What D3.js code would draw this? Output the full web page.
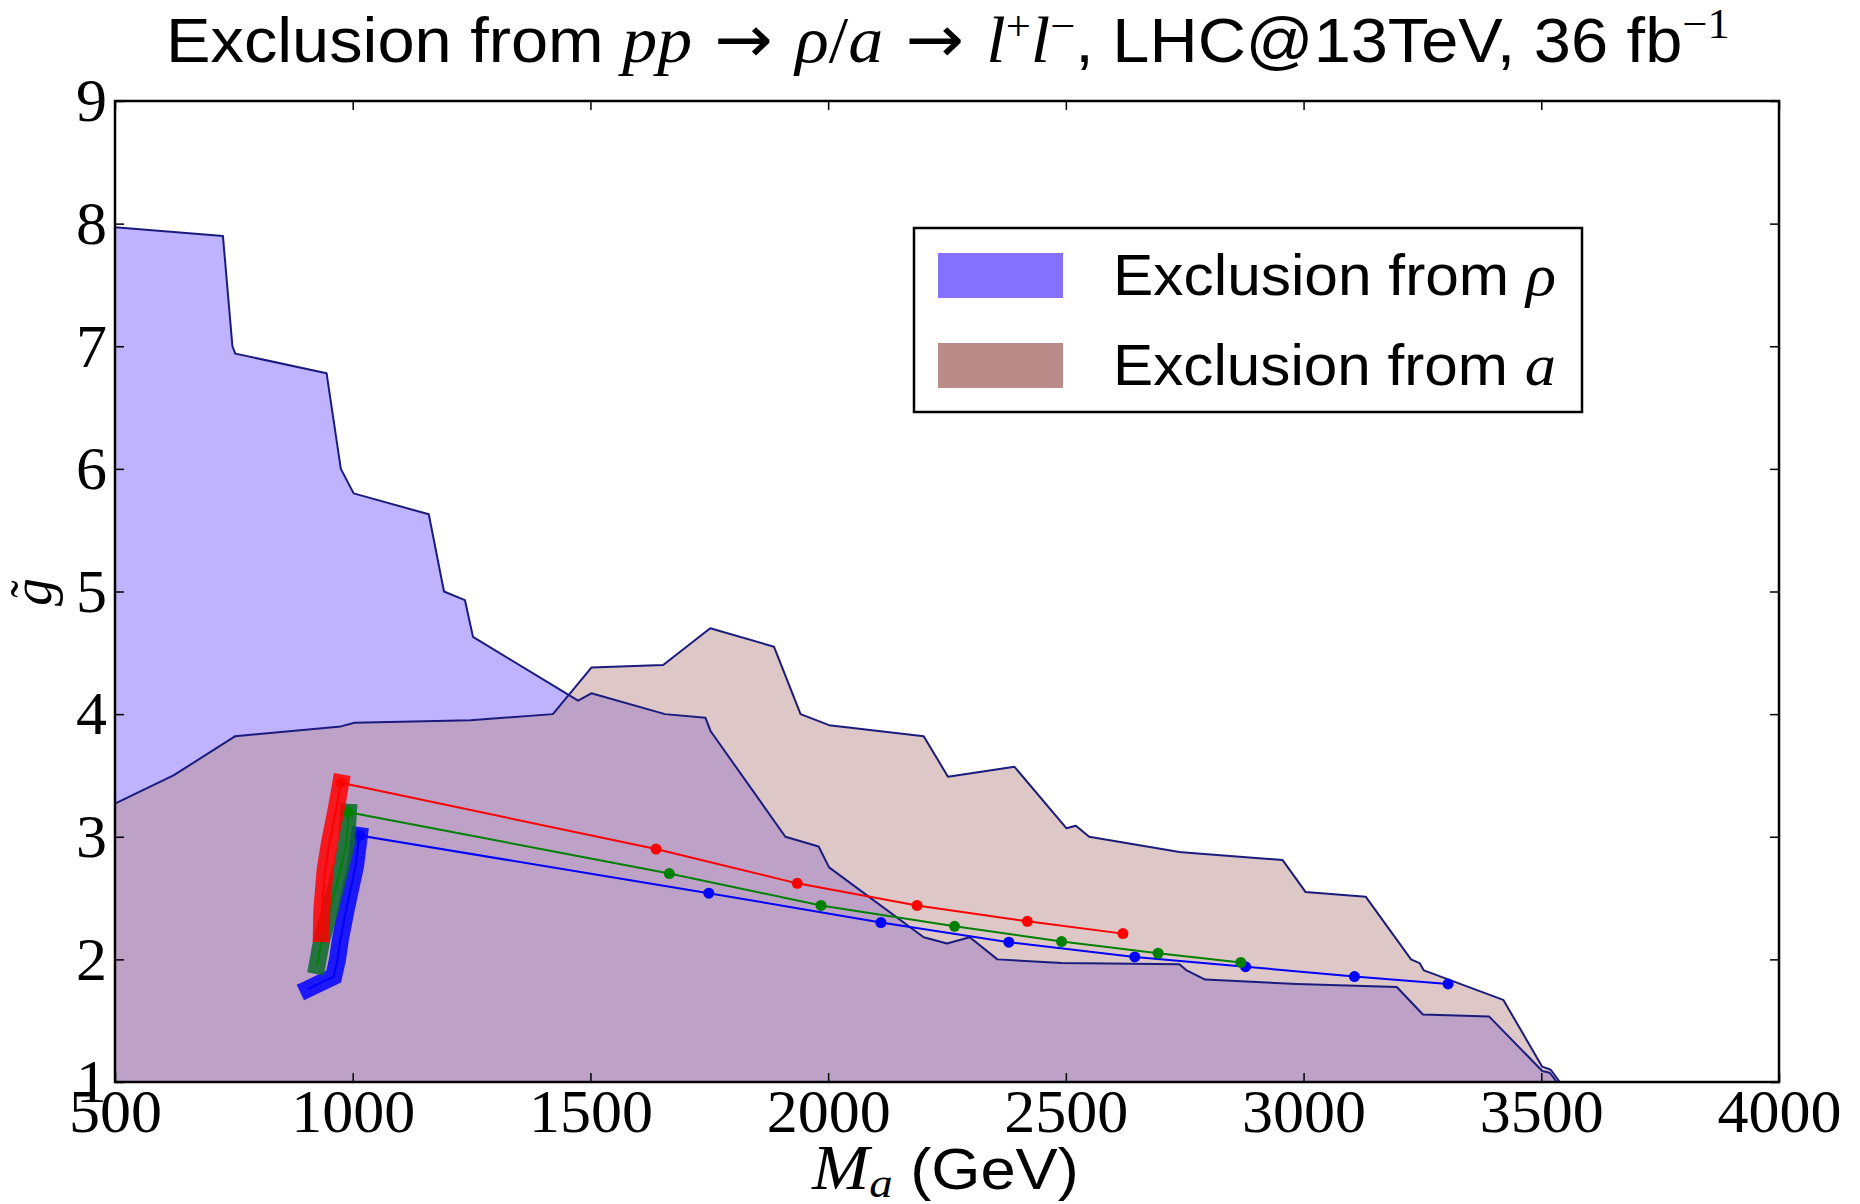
<!DOCTYPE html>
<html>
<head>
<meta charset="utf-8">
<script src="https://cdn.jsdelivr.net/npm/d3@7"></script>
<style>
  html, body { margin: 0; padding: 0; background: #fff; }
  svg { display: block; }
</style>
</head>
<body>
<svg id="chart" width="1860" height="1204"></svg>
<script>
// Upper edge of the region excluded by the rho resonance (M_a in GeV, coupling g~)
const rhoMass     = [500, 727, 747, 753, 945, 975, 1002, 1160, 1192, 1236, 1253, 1474, 1502, 1657, 1742, 1753, 1910, 1980, 2002, 2201, 2250, 2298, 2356, 2491, 2739, 2754, 2793, 2986, 3196, 3251, 3390, 3502, 3518, 3533];
const rhoCoupling = [7.97, 7.90, 7.00, 6.94, 6.78, 6.00, 5.80, 5.63, 5.00, 4.93, 4.63, 4.11, 4.17, 4.00, 3.97, 3.86, 3.00, 2.92, 2.75, 2.18, 2.13, 2.18, 2.00, 1.97, 1.96, 1.91, 1.835, 1.80, 1.775, 1.55, 1.535, 1.09, 1.075, 1.0];

// Upper edge of the region excluded by the a resonance
const aMass     = [500, 623, 753, 975, 1004, 1248, 1421, 1502, 1653, 1752, 1886, 1942, 2002, 2201, 2252, 2392, 2501, 2521, 2549, 2739, 2757, 2956, 3004, 3131, 3226, 3244, 3253, 3420, 3502, 3520, 3539];
const aCoupling = [3.27, 3.50, 3.82, 3.90, 3.93, 3.95, 4.00, 4.38, 4.40, 4.70, 4.55, 4.00, 3.91, 3.82, 3.49, 3.57, 3.07, 3.09, 3.00, 2.875, 2.87, 2.81, 2.55, 2.51, 2.00, 1.97, 1.91, 1.67, 1.125, 1.10, 1.0];

// Benchmark scans: a low-mass branch (drawn heavy) followed by the marked points
const blueBranchMass  = [906, 960, 968, 974, 986, 1006, 1014];
const blueBranchG     = [1.76, 1.86, 2.00, 2.16, 2.40, 2.76, 3.01];
const blueMass        = [1014, 1749, 2111, 2380, 2645, 2878, 3107, 3304];
const blueG           = [3.01, 2.54, 2.30, 2.14, 2.02, 1.94, 1.86, 1.80];

const greenBranchMass = [925, 935, 952, 970, 987, 991];
const greenBranchG    = [1.95, 2.16, 2.40, 2.67, 2.95, 3.20];
const greenMass       = [991, 1666, 1985, 2266, 2491, 2694, 2868];
const greenG          = [3.20, 2.70, 2.44, 2.27, 2.145, 2.05, 1.975];

const redBranchMass   = [934, 935, 942, 951, 965, 975];
const redBranchG      = [2.21, 2.40, 2.73, 2.95, 3.22, 3.44];
const redMass         = [975, 1638, 1935, 2187, 2419, 2620];
const redG            = [3.44, 2.90, 2.62, 2.44, 2.31, 2.21];

// Axis ticks
const xTicks = [500, 1000, 1500, 2000, 2500, 3000, 3500, 4000];
const yTicks = [1, 2, 3, 4, 5, 6, 7, 8, 9];

// Legend entries
const legendLabels = ["ρ", "a"];

const svg = d3.select("#chart");
const plotL = 115, plotR = 1779, plotT = 101, plotB = 1082;

const x = d3.scaleLinear().domain([500, 4000]).range([plotL, plotR]);
const y = d3.scaleLinear().domain([1, 9]).range([plotB, plotT]);

const SANS = "'Liberation Sans', Arial, Helvetica, sans-serif";
const SERIF = "'Liberation Serif', 'Times New Roman', serif";
const ARROW = "'DejaVu Sans', sans-serif";

svg.append("defs").append("clipPath").attr("id", "plotClip")
  .append("rect").attr("x", plotL).attr("y", plotT)
  .attr("width", plotR - plotL).attr("height", plotB - plotT);

const plot = svg.append("g").attr("clip-path", "url(#plotClip)");

const area = d3.area()
  .x(d => x(d[0]))
  .y0(y(1))
  .y1(d => y(d[1]));
const line = d3.line()
  .x(d => x(d[0]))
  .y(d => y(d[1]));

const rhoData = d3.zip(rhoMass, rhoCoupling);
const aData = d3.zip(aMass, aCoupling);

// Filled exclusion regions (a drawn over rho)
plot.append("path").datum(rhoData)
  .attr("d", area).attr("fill", "#8066ff").attr("fill-opacity", 0.5);
plot.append("path").datum(aData)
  .attr("d", area).attr("fill", "#bc8f8f").attr("fill-opacity", 0.5);

// Region boundaries
[rhoData, aData].forEach(data => {
  plot.append("path").datum(data)
    .attr("d", line)
    .attr("fill", "none")
    .attr("stroke", "#1b1b7d")
    .attr("stroke-width", 2)
    .attr("stroke-linejoin", "round");
});

// Benchmark curves
const series = [
  { color: "#0000ff", band: "#0000ff", bm: blueBranchMass, bg: blueBranchG, m: blueMass, g: blueG },
  { color: "#008000", band: "#0d6a2c", bm: greenBranchMass, bg: greenBranchG, m: greenMass, g: greenG },
  { color: "#ff0000", band: "#ff0000", bm: redBranchMass, bg: redBranchG, m: redMass, g: redG }
];

series.forEach(s => {
  const branch = d3.zip(s.bm, s.bg);
  const marked = d3.zip(s.m, s.g);
  plot.append("path").datum(branch)
    .attr("d", line)
    .attr("fill", "none")
    .attr("stroke", s.band)
    .attr("stroke-opacity", 0.85)
    .attr("stroke-width", 17)
    .attr("stroke-linecap", "square")
    .attr("stroke-linejoin", "miter");
  plot.append("path").datum(branch.slice(0, -1).concat(marked))
    .attr("d", line)
    .attr("fill", "none")
    .attr("stroke", s.color)
    .attr("stroke-width", 2);
  plot.append("g").selectAll("circle").data(marked).join("circle")
    .attr("cx", d => x(d[0]))
    .attr("cy", d => y(d[1]))
    .attr("r", 5.5)
    .attr("fill", s.color);
});

// Axes with inward ticks on all four sides
function styleAxis(g) {
  g.select(".domain").remove();
  g.selectAll(".tick line").attr("stroke", "#000").attr("stroke-width", 1.5);
  g.selectAll(".tick text")
    .attr("font-family", SERIF)
    .attr("font-size", 62)
    .attr("fill", "#000");
}

svg.append("g")
  .attr("transform", `translate(0,${plotB})`)
  .call(d3.axisBottom(x).tickValues(xTicks).tickFormat(d3.format("d")).tickSize(-9).tickPadding(6))
  .call(styleAxis);
svg.append("g")
  .attr("transform", `translate(0,${plotT})`)
  .call(d3.axisTop(x).tickValues(xTicks).tickFormat("").tickSize(-9))
  .call(styleAxis);
svg.append("g")
  .attr("transform", `translate(${plotL},0)`)
  .call(d3.axisLeft(y).tickValues(yTicks).tickFormat(d3.format("d")).tickSize(-9).tickPadding(8))
  .call(styleAxis);
svg.append("g")
  .attr("transform", `translate(${plotR},0)`)
  .call(d3.axisRight(y).tickValues(yTicks).tickFormat("").tickSize(-9))
  .call(styleAxis);

// Plot frame
svg.append("rect")
  .attr("x", plotL).attr("y", plotT)
  .attr("width", plotR - plotL).attr("height", plotB - plotT)
  .attr("fill", "none").attr("stroke", "#000").attr("stroke-width", 2.5);

// Stretch a text block horizontally so it spans [x0, x0 + width]
function fitWidth(textSel, x0, width) {
  const w = textSel.node().getBBox().width;
  const k = width / w;
  textSel.attr("transform", `translate(${x0},0) scale(${k},1) translate(${-x0},0)`);
}

// Title
const title = svg.append("text")
  .attr("x", 166).attr("y", 62)
  .attr("font-family", SANS).attr("font-size", 63).attr("fill", "#000");
title.append("tspan").text("Exclusion from ");
title.append("tspan").attr("font-family", SERIF).attr("font-style", "italic").attr("font-size", 66).text("pp");
title.append("tspan").attr("font-family", ARROW).attr("font-size", 66).text(" → ");
title.append("tspan").attr("font-family", SERIF).attr("font-style", "italic").attr("font-size", 66).text("ρ");
title.append("tspan").attr("font-family", SERIF).attr("font-size", 66).text("/");
title.append("tspan").attr("font-family", SERIF).attr("font-style", "italic").attr("font-size", 66).text("a");
title.append("tspan").attr("font-family", ARROW).attr("font-size", 66).text(" → ");
title.append("tspan").attr("font-family", SERIF).attr("font-style", "italic").attr("font-size", 66).text("l");
title.append("tspan").attr("font-family", SERIF).attr("font-size", 42).attr("dy", -22).text("+");
title.append("tspan").attr("font-family", SERIF).attr("font-style", "italic").attr("font-size", 66).attr("dy", 22).text("l");
title.append("tspan").attr("font-family", SERIF).attr("font-size", 42).attr("dy", -22).text("−");
title.append("tspan").attr("dy", 22).text(", LHC@13TeV, 36 fb");
title.append("tspan").attr("font-family", SERIF).attr("font-size", 42).attr("dy", -24).text("−1");
fitWidth(title, 166, 1564);

// Axis titles
const xLabel = svg.append("text")
  .attr("x", 812).attr("y", 1189)
  .attr("font-family", SANS).attr("font-size", 58).attr("fill", "#000");
xLabel.append("tspan").attr("font-family", SERIF).attr("font-style", "italic").attr("font-size", 63).text("M");
xLabel.append("tspan").attr("font-family", SERIF).attr("font-style", "italic").attr("font-size", 43).attr("dy", 8).text("a");
xLabel.append("tspan").attr("dy", -8).text(" (GeV)");
fitWidth(xLabel, 812, 268);

const yLabel = svg.append("g").attr("transform", "translate(51,592) rotate(-90)");
yLabel.append("text")
  .attr("text-anchor", "middle")
  .attr("font-family", SERIF).attr("font-style", "italic").attr("font-size", 56)
  .attr("fill", "#000").text("g");
yLabel.append("text")
  .attr("x", 3).attr("y", -4)
  .attr("text-anchor", "middle")
  .attr("font-family", SERIF).attr("font-size", 52)
  .attr("fill", "#000").text("˜");

// Legend
const legend = svg.append("g");
legend.append("rect")
  .attr("x", 914).attr("y", 228).attr("width", 668).attr("height", 184)
  .attr("fill", "#fff").attr("stroke", "#000").attr("stroke-width", 2.5);
const legendColors = ["#8570ff", "#b98c8a"];
legendLabels.forEach((lab, i) => {
  const rowY = 253 + i * 90;
  legend.append("rect")
    .attr("x", 938).attr("y", rowY).attr("width", 125).attr("height", 45)
    .attr("fill", legendColors[i]);
  const t = legend.append("text")
    .attr("x", 1113).attr("y", 295 + i * 90)
    .attr("font-family", SANS).attr("font-size", 58).attr("fill", "#000");
  t.append("tspan").text("Exclusion from ");
  t.append("tspan").attr("font-family", SERIF).attr("font-style", "italic").attr("font-size", 60).text(lab);
  fitWidth(t, 1113, 443);
});
</script>
</body>
</html>
